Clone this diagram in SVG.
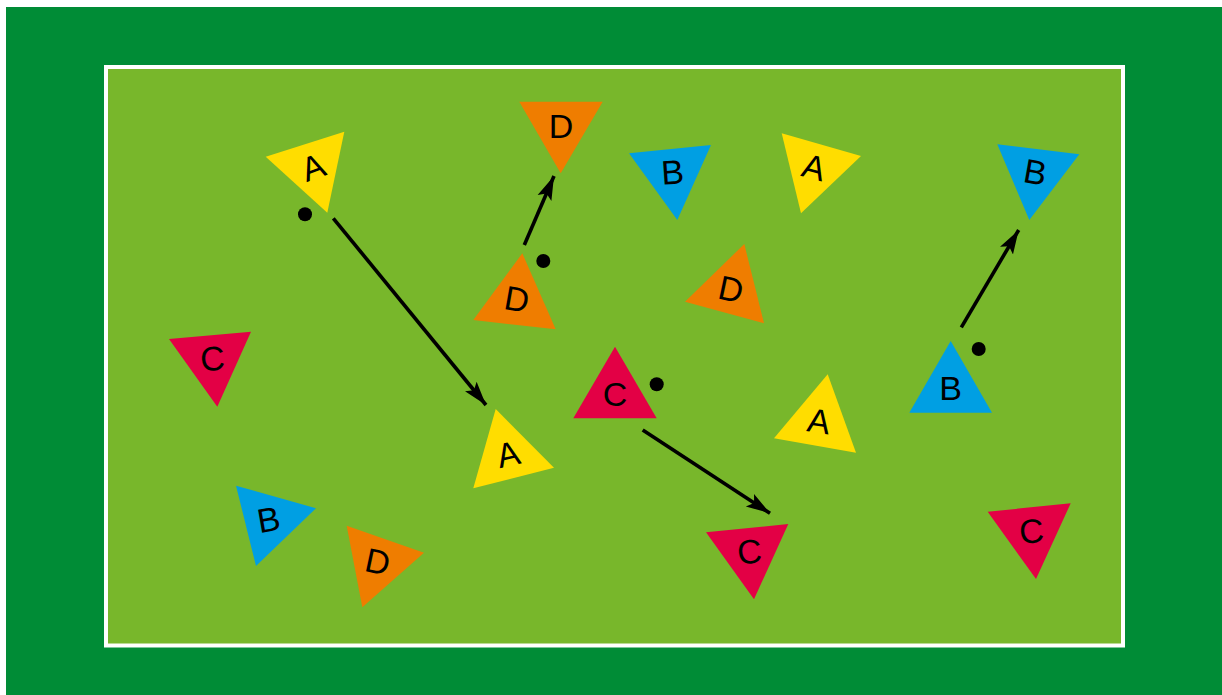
<svg xmlns="http://www.w3.org/2000/svg" width="1222" height="695" viewBox="0 0 1222 695">
<style>
.a{fill:#FFDD00}.b{fill:#009FE3}.c{fill:#E30045}.d{fill:#EF7D00}
text{font-family:"Liberation Sans",Arial,sans-serif;font-size:34px;fill:#000;text-anchor:middle;dominant-baseline:central}
.arrow{stroke:#000;stroke-width:3.6;fill:none;marker-end:url(#ah)}
</style>
<defs>
<marker id="ah" markerUnits="userSpaceOnUse" markerWidth="26" markerHeight="18" refX="24" refY="9" orient="auto"><path d="M0,1.5 L24,9 L0,16.5 L5,9 Z" fill="#000"/></marker>
</defs>
<rect x="0" y="0" width="1222" height="695" fill="#fff"/>
<rect x="6" y="7" width="1216" height="688" fill="#008C36"/>
<rect x="106" y="67" width="1017" height="578.5" fill="#78B72B" stroke="#fff" stroke-width="4"/>
<g id="n1"><polygon class="a" points="265.7,156.7 344.3,131.7 327.3,212.7"/><text x="313" y="167" transform="rotate(-20 313 167)">A</text></g>
<g id="n2"><polygon class="d" points="519.3,101.7 602.7,101.7 560.7,173.3"/><text x="561" y="126">D</text></g>
<g id="n3"><polygon class="d" points="522.3,253.3 473.3,320 555.7,329.3"/><text x="517" y="299" transform="rotate(10 517 299)">D</text></g>
<g id="n4"><polygon class="b" points="629,153.3 711,145 677.3,220"/><text x="672.4" y="172" transform="rotate(-4 672.4 172)">B</text></g>
<g id="n5"><polygon class="a" points="781.7,133.3 861,156 801,213.3"/><text x="814" y="167" transform="rotate(15 814 167)">A</text></g>
<g id="n6"><polygon class="d" points="744.3,244 685,301.7 764,323.3"/><text x="731.1" y="289" transform="rotate(12 731.1 289)">D</text></g>
<g id="n7"><polygon class="b" points="997.3,144.3 1079.3,154.3 1029.3,220"/><text x="1035.3" y="172" transform="rotate(10 1035.3 172)">B</text></g>
<g id="n8"><polygon class="b" points="950.7,341 909.3,412.7 992,412.7"/><text x="950.7" y="388">B</text></g>
<g id="n9"><polygon class="c" points="169,339 251,331.7 217.3,406.7"/><text x="212.4" y="358.5" transform="rotate(-4 212.4 358.5)">C</text></g>
<g id="n10"><polygon class="a" points="495.7,409 473.3,488.3 554,467.7"/><text x="508" y="454" transform="rotate(-13 508 454)">A</text></g>
<g id="n11"><polygon class="c" points="615,346.7 573.3,418.3 656.7,418.3"/><text x="615" y="393.5">C</text></g>
<g id="n12"><polygon class="a" points="827.7,374.3 774,438.3 856,452.7"/><text x="819.2" y="421" transform="rotate(9 819.2 421)">A</text></g>
<g id="n13"><polygon class="b" points="236,485.7 316,508.3 256,566"/><text x="268.5" y="519.5" transform="rotate(-10 268.5 519.5)">B</text></g>
<g id="n14"><polygon class="d" points="346.7,525.7 424,552.7 362.3,607.3"/><text x="377.7" y="561.5" transform="rotate(12 377.7 561.5)">D</text></g>
<g id="n15"><polygon class="c" points="706,532.3 788.3,524 754,599.3"/><text x="749.4" y="551.5" transform="rotate(-5 749.4 551.5)">C</text></g>
<g id="n16"><polygon class="c" points="987.7,511.7 1070.7,503.3 1036,579"/><text x="1031.5" y="531" transform="rotate(-5 1031.5 531)">C</text></g>
<g id="dots" fill="#000">
<circle cx="305" cy="214.3" r="7"/><circle cx="543.3" cy="261" r="7"/><circle cx="656.7" cy="384.3" r="7"/><circle cx="978.7" cy="349" r="7"/>
</g>
<g id="connectors">
<line class="arrow" x1="333.3" y1="218.3" x2="486" y2="405"/>
<line class="arrow" x1="524.3" y1="245" x2="554" y2="176"/>
<line class="arrow" x1="642.7" y1="430" x2="770" y2="513.3"/>
<line class="arrow" x1="961.3" y1="327.3" x2="1018.7" y2="230"/>
</g>
</svg>
